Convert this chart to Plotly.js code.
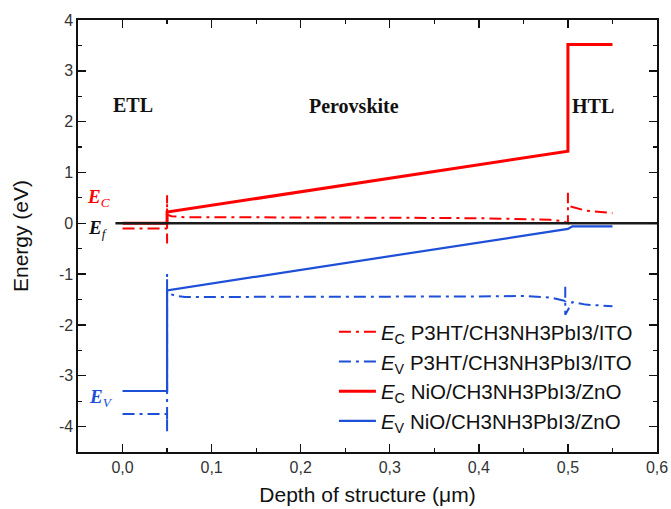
<!DOCTYPE html>
<html><head><meta charset="utf-8">
<script src="https://cdn.plot.ly/plotly-3.0.1.min.js"></script>
<style>html,body{margin:0;padding:0;background:#fff}#chart{width:671px;height:509px}</style>
</head><body><div id="chart"></div>
<script>
// EC P3HT/CH3NH3PbI3/ITO (red dash-dot)
const ecP3htX = [0, 0.05, 0.05, 0.05, 0.05, 0.055, 0.06, 0.07, 0.1, 0.2, 0.3, 0.4, 0.45, 0.48, 0.495, 0.5, 0.5, 0.5, 0.505, 0.52, 0.55];
const ecP3htY = [-0.1, -0.1, -0.4, 0.55, 0.17, 0.14, 0.13, 0.12, 0.12, 0.12, 0.11, 0.1, 0.09, 0.07, 0.04, 0.0, 0.6, 0.35, 0.32, 0.25, 0.2];
// EV P3HT/CH3NH3PbI3/ITO (blue dash-dot)
const evP3htX = [0, 0.05, 0.05, 0.05, 0.05, 0.055, 0.06, 0.07, 0.1, 0.2, 0.3, 0.4, 0.45, 0.48, 0.49, 0.497, 0.497, 0.497, 0.505, 0.52, 0.55];
const evP3htY = [-3.75, -3.75, -4.1, -1.0, -1.33, -1.40, -1.43, -1.45, -1.45, -1.45, -1.45, -1.44, -1.43, -1.46, -1.5, -1.53, -1.25, -1.8, -1.55, -1.6, -1.63];
// EC NiO/CH3NH3PbI3/ZnO (red solid)
const ecNioX = [0, 0.05, 0.05, 0.5, 0.5, 0.55];
const ecNioY = [0, 0, 0.22, 1.42, 3.52, 3.52];
// EV NiO/CH3NH3PbI3/ZnO (blue solid)
const evNioX = [0, 0.05, 0.05, 0.5, 0.505, 0.55];
const evNioY = [-3.3, -3.3, -1.32, -0.11, -0.06, -0.06];
// Fermi level
const efX = [-0.008, 0.6];
const efY = [0, 0];

const legendNames = [
  '<i>E</i><sub>C</sub> P3HT/CH3NH3PbI3/ITO',
  '<i>E</i><sub>V</sub> P3HT/CH3NH3PbI3/ITO',
  '<i>E</i><sub>C</sub> NiO/CH3NH3PbI3/ZnO',
  '<i>E</i><sub>V</sub> NiO/CH3NH3PbI3/ZnO'
];
const regionLabels = ['ETL', 'Perovskite', 'HTL'];
const regionX = [0.012, 0.26, 0.528];
const regionY = [2.33, 2.3, 2.3];
const bandLabels = ['<b><i>E</i></b><i><sub>C</sub></i>', '<b><i>E</i></b><i><sub>f</sub></i>', '<b><i>E</i></b><i><sub>V</sub></i>'];
const bandLabelX = [-0.027, -0.027, -0.024];
const bandLabelY = [0.49, -0.12, -3.43];
const bandLabelColor = ['#ff0000', '#111111', '#1d4fd8'];
const yTickVals = [-4, -3, -2, -1, 0, 1, 2, 3, 4];
const yTickText = ['-4', '-3', '-2', '-1', '0', '1', '2', '3', '4'];

const RED = '#ff0000', BLUE = '#1d4fd8';
const dd = '12px,5px,3px,5px';
const traces = [
  {x: ecP3htX, y: ecP3htY, name: legendNames[0], mode: 'lines', legendgroup: 'a', line: {color: RED, width: 2, dash: dd}},
  {x: evP3htX, y: evP3htY, name: legendNames[1], mode: 'lines', legendgroup: 'b', line: {color: BLUE, width: 2, dash: dd}},
  {x: ecNioX, y: ecNioY, name: legendNames[2], mode: 'lines', legendgroup: 'c', line: {color: RED, width: 3}},
  {x: evNioX, y: evNioY, name: legendNames[3], mode: 'lines', legendgroup: 'd', line: {color: BLUE, width: 2.2}},
  {x: efX, y: efY, mode: 'lines', showlegend: false, line: {color: '#1a1a1a', width: 2.5}}
];

const annotations = [];
regionLabels.forEach((t, i) => annotations.push({x: regionX[i], y: regionY[i], xref: 'x', yref: 'y', text: '<b>' + t + '</b>', showarrow: false,
  font: {family: 'Liberation Serif, serif', size: 20, color: '#111'}}));
bandLabels.forEach((t, i) => annotations.push({x: bandLabelX[i], y: bandLabelY[i], xref: 'x', yref: 'y', text: t, showarrow: false,
  font: {family: 'Liberation Serif, serif', size: 19, color: bandLabelColor[i]}}));

const axisCommon = {showline: true, linecolor: '#111', linewidth: 1.6, mirror: 'allticks', ticks: 'inside', ticklen: 8, tickwidth: 1.4,
  tickcolor: '#111', showgrid: false, zeroline: false, tickfont: {family: 'Liberation Sans, Arial, sans-serif', size: 16, color: '#333'}};

const layout = {
  width: 671, height: 509,
  margin: {l: 78, r: 14, t: 20, b: 57},
  paper_bgcolor: '#fff', plot_bgcolor: '#fff',
  separators: ',.',
  showlegend: true,
  legend: {x: 0.442, y: 0.324, xanchor: 'left', yanchor: 'top', bgcolor: 'rgba(0,0,0,0)', tracegroupgap: 0, itemwidth: 37,
    font: {family: 'Liberation Sans, Arial, sans-serif', size: 20.5, color: '#111'}},
  xaxis: Object.assign({}, axisCommon, {range: [-0.05, 0.6], dtick: 0.1, tick0: 0, tickformat: '.1f',
    minor: {dtick: 0.05, ticks: 'inside', ticklen: 4, tickcolor: '#111', tickwidth: 1.2},
    title: {text: 'Depth of structure (μm)', font: {family: 'Liberation Sans, Arial, sans-serif', size: 21, color: '#111'}, standoff: 12}}),
  yaxis: Object.assign({}, axisCommon, {range: [-4.5, 4], tickvals: yTickVals, ticktext: yTickText,
    minor: {dtick: 0.5, ticks: 'inside', ticklen: 4, tickcolor: '#111', tickwidth: 1.2},
    title: {text: 'Energy (eV)', font: {family: 'Liberation Sans, Arial, sans-serif', size: 21, color: '#111'}, standoff: 24}}),
  annotations: annotations
};
Plotly.newPlot('chart', traces, layout, {displayModeBar: false, staticPlot: true});
</script></body></html>
